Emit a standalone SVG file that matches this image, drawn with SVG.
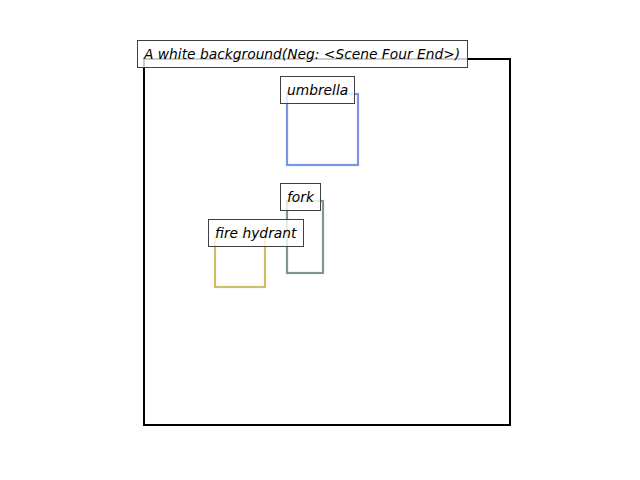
<svg xmlns="http://www.w3.org/2000/svg" width="640" height="480" viewBox="0 0 640 480">
  <style>
    .lbl { fill: #ffffff; fill-opacity: 0.8; stroke: #404040; stroke-width: 1; }
    .txt { font-family: "DejaVu Sans", sans-serif; font-style: italic; font-size: 13.8px; fill: #000; }
    .box { fill: none; stroke-width: 2.2; stroke-opacity: 0.9; }
  </style>
  <rect width="640" height="480" fill="#ffffff"/>
  <g id="scene">
    <rect x="144" y="59" width="366" height="366" fill="none" stroke="#000" stroke-width="2"/>
  </g>
  <g id="umbrella">
    <rect class="box" x="287" y="94" width="71" height="71" stroke="#6a8ae0"/>
    <rect class="lbl" x="280.5" y="76.5" width="74" height="27"/>
    <text class="txt" x="287" y="95">umbrella</text>
  </g>
  <g id="fork">
    <rect class="box" x="287" y="201" width="36" height="72" stroke="#6f8f7c"/>
    <rect class="lbl" x="280.5" y="183.5" width="40" height="27"/>
    <text class="txt" x="287" y="202">fork</text>
  </g>
  <g id="fire-hydrant">
    <rect class="box" x="215" y="237" width="50" height="50" stroke="#c8b85a"/>
    <rect class="lbl" x="208.5" y="219.5" width="95" height="27"/>
    <text class="txt" x="215" y="238">fire hydrant</text>
  </g>
  <g id="title">
    <rect class="lbl" x="137.5" y="40.5" width="330" height="27"/>
    <text class="txt" x="144" y="59">A white background(Neg: &lt;Scene Four End&gt;)</text>
  </g>
  <g id="connectors"/>
</svg>
